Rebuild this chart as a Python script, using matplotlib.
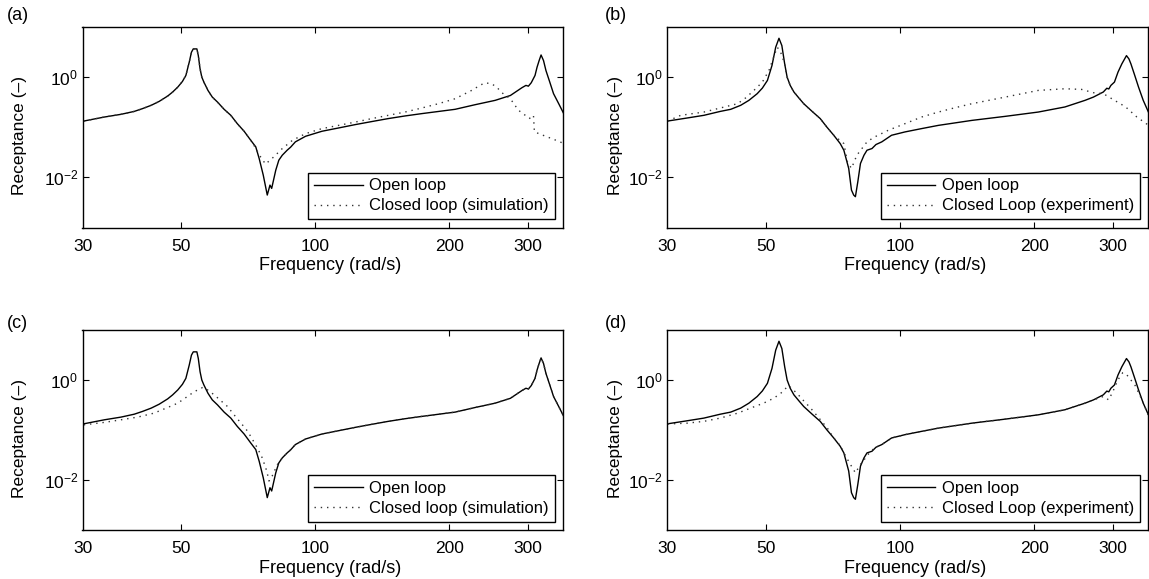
import math
import matplotlib
matplotlib.use("Agg")
import matplotlib.pyplot as plt
from matplotlib.ticker import FixedLocator, FuncFormatter, NullLocator

plt.rcParams["font.family"] = ["Liberation Sans", "DejaVu Sans"]
plt.rcParams["mathtext.fontset"] = "custom"
plt.rcParams["mathtext.rm"] = "Liberation Sans"
plt.rcParams["mathtext.it"] = "Liberation Sans:italic"
plt.rcParams["mathtext.bf"] = "Liberation Sans:bold"

# ---- Open-loop receptance, simulation model (panels a and c) ----
freq_sim_open = [30.2, 33.6, 36.6, 39.2, 40.9, 42.8, 44.6, 46.6, 47.8, 49.1,
                 50.3, 51.2, 52.1, 52.7, 53.2, 54.2, 54.6, 55.1, 55.6, 56.2,
                 57.4, 58.7, 60.3, 62.4, 64.6, 66.8, 69.2, 71.6, 73.5, 74.8,
                 76.4, 78.0, 79.1, 79.8, 81.5, 82.8, 84.3, 86.5, 88.0, 90.2,
                 95.1, 103.5, 112.8, 123.0, 134.0, 145.9, 159.0, 173.4, 206.1, 228.6,
                 253.5, 274.2, 291.1, 297.2, 301.0, 305.5, 311.5, 314.8, 318.2, 321.4,
                 325.5, 329.6, 336.2, 342.8, 352.6, 360.6]
rec_sim_open = [0.133, 0.160, 0.181, 0.207, 0.235, 0.274, 0.328, 0.419, 0.503, 0.632,
                0.82, 1.079, 1.986, 3.14, 3.656, 3.656, 2.70, 1.466, 1.0, 0.796,
                0.543, 0.400, 0.318, 0.228, 0.173, 0.118, 0.0832, 0.0551, 0.0406, 0.0238,
                0.0111, 0.00444, 0.00701, 0.00603, 0.0139, 0.022, 0.0277, 0.0350, 0.040, 0.0511,
                0.0661, 0.0832, 0.0968, 0.113, 0.130, 0.149, 0.168, 0.187, 0.228, 0.282,
                0.344, 0.430, 0.615, 0.684, 0.660, 0.773, 1.08, 1.578, 2.14, 2.767,
                2.14, 1.355, 0.796, 0.468, 0.288, 0.194]

# ---- Closed-loop receptance, simulation (panel a) ----
freq_sim_closed_a = [30.2, 33.6, 36.6, 39.2, 40.9, 42.8, 44.6, 46.6, 47.8, 49.1,
                     50.3, 51.2, 52.1, 52.7, 53.2, 54.2, 54.6, 55.1, 55.6, 56.2,
                     57.4, 58.7, 60.3, 62.4, 64.6, 66.8, 69.2, 71.6, 73.5, 74.8,
                     77.3, 80.7, 84.3, 88.9, 95.1, 103.5, 112.8, 123.0, 134.0, 145.9,
                     159.0, 173.4, 189.0, 206.1, 224.4, 234.2, 240.4, 248.9, 255.5, 262.4,
                     274.2, 285.8, 302.7, 309.0, 310.5, 323.6, 345.9, 360.6]
rec_sim_closed_a = [0.133, 0.160, 0.181, 0.207, 0.235, 0.274, 0.328, 0.419, 0.503, 0.632,
                    0.82, 1.079, 1.986, 3.14, 3.656, 3.656, 2.70, 1.466, 1.0, 0.796,
                    0.543, 0.400, 0.318, 0.228, 0.173, 0.118, 0.0832, 0.0551, 0.038, 0.0282,
                    0.0184, 0.0257, 0.0376, 0.0551, 0.0746, 0.094, 0.109, 0.127, 0.149, 0.173,
                    0.201, 0.242, 0.295, 0.371, 0.543, 0.683, 0.771, 0.736, 0.632, 0.489,
                    0.371, 0.219, 0.150, 0.174, 0.081, 0.070, 0.0557, 0.0479]

# ---- Closed-loop receptance, simulation (panel c) ----
freq_sim_closed_c = [30.2, 33.6, 36.6, 39.9, 43.4, 46.6, 49.1, 51.6, 53.5, 55.8,
                     57.3, 59.3, 61.4, 63.5, 65.7, 68.1, 70.5, 72.3, 74.1, 76.0,
                     77.8, 78.7, 80.0, 82.2, 84.3, 86.5, 88.0, 90.2, 95.1, 103.5,
                     112.8, 123.0, 134.0, 145.9, 159.0, 173.4, 206.1, 228.6, 253.5, 274.2,
                     291.1, 297.2, 301.0, 305.5, 311.5, 314.8, 318.2, 321.4, 325.5, 329.6,
                     336.2, 342.8, 352.6, 360.6]
rec_sim_closed_c = [0.127, 0.142, 0.160, 0.181, 0.217, 0.282, 0.344, 0.467, 0.586, 0.705,
                    0.632, 0.504, 0.383, 0.295, 0.201, 0.137, 0.094, 0.0641, 0.0438, 0.0277,
                    0.0151, 0.00955, 0.012, 0.0204, 0.0277, 0.0350, 0.040, 0.0511, 0.0661, 0.0832,
                    0.0968, 0.113, 0.130, 0.149, 0.168, 0.187, 0.228, 0.282, 0.344, 0.430,
                    0.615, 0.684, 0.660, 0.773, 1.08, 1.578, 2.14, 2.767, 2.14, 1.355,
                    0.796, 0.468, 0.288, 0.194]

# ---- Open-loop receptance, measured (panels b and d) ----
freq_exp_open = [30.1, 33.3, 36.3, 39.5, 41.7, 43.9, 45.8, 47.8, 49.1, 50.4,
                 51.6, 52.6, 53.5, 54.3, 55.1, 55.8, 56.7, 57.8, 59.3, 60.8,
                 63.5, 66.2, 68.5, 71.0, 73.4, 74.8, 76.7, 77.8, 78.7, 79.4,
                 80.4, 81.5, 83.0, 84.3, 86.5, 88.3, 91.0, 95.7, 102.6, 111.8,
                 121.9, 144.9, 172.2, 204.2, 234.4, 260.0, 271.6, 285.8, 291.0, 294.0,
                 297.2, 302.7, 308.3, 314.5, 322.1, 326.2, 329.6, 336.2, 342.8, 351.2,
                 360.6]
rec_exp_open = [0.133, 0.153, 0.173, 0.207, 0.228, 0.274, 0.344, 0.467, 0.604, 0.859,
                1.706, 3.945, 5.957, 4.266, 1.841, 1.0, 0.683, 0.504, 0.383, 0.295,
                0.207, 0.149, 0.101, 0.0692, 0.0473, 0.0348, 0.0151, 0.00558, 0.00444, 0.00411,
                0.00818, 0.0189, 0.0277, 0.0348, 0.0376, 0.0452, 0.0511, 0.0692, 0.0807, 0.094,
                0.109, 0.137, 0.165, 0.201, 0.254, 0.344, 0.400, 0.505, 0.600, 0.580,
                0.684, 0.796, 1.256, 1.84, 2.685, 2.31, 1.837, 1.08, 0.634, 0.345,
                0.203]

# ---- Closed-loop receptance, measured (panel b) ----
freq_exp_closed_b = [30.1, 32.2, 36.3, 39.5, 43.2, 45.0, 47.0, 49.1, 50.8, 53.0,
                     53.8, 55.1, 55.8, 56.7, 57.8, 59.3, 60.8, 63.5, 66.2, 68.5,
                     71.0, 74.8, 76.2, 77.8, 80.0, 84.3, 86.5, 88.3, 94.1, 102.6,
                     111.8, 121.9, 132.8, 144.9, 172.2, 204.2, 234.4, 255.3, 271.6, 285.8,
                     302.7, 320.6, 339.6, 360.6]
rec_exp_closed_b = [0.133, 0.173, 0.201, 0.242, 0.295, 0.383, 0.543, 0.796, 1.358, 3.945,
                    3.39, 1.841, 1.0, 0.683, 0.504, 0.383, 0.295, 0.207, 0.149, 0.101,
                    0.0692, 0.0473, 0.0204, 0.0151, 0.0277, 0.0511, 0.0594, 0.066, 0.0871, 0.118,
                    0.160, 0.201, 0.245, 0.295, 0.400, 0.543, 0.586, 0.569, 0.489, 0.468,
                    0.345, 0.255, 0.161, 0.110]

# ---- Closed-loop receptance, measured (panel d) ----
freq_exp_closed_d = [30.1, 33.3, 36.3, 39.5, 43.2, 46.2, 49.4, 52.1, 54.0, 56.2,
                     58.7, 60.8, 63.0, 65.8, 68.7, 71.0, 73.6, 75.5, 77.4, 79.4,
                     81.5, 85.9, 88.3, 91.0, 95.7, 102.6, 111.8, 121.9, 144.9, 172.2,
                     204.2, 234.4, 260.0, 271.6, 285.8, 293.8, 300.6, 308.0, 316.0, 322.0,
                     336.5, 349.0, 360.6]
rec_exp_closed_d = [0.132, 0.137, 0.149, 0.173, 0.217, 0.274, 0.344, 0.433, 0.543, 0.771,
                    0.543, 0.383, 0.274, 0.173, 0.109, 0.0692, 0.0473, 0.0299, 0.0204, 0.0139,
                    0.0204, 0.0376, 0.0452, 0.0511, 0.0692, 0.0807, 0.094, 0.109, 0.137, 0.165,
                    0.201, 0.254, 0.344, 0.400, 0.468, 0.401, 0.60, 1.0, 1.4, 1.3,
                    0.79, 0.40, 0.20]

x_ticks = [30, 50, 100, 200, 300]
y_ticks = [1e-2, 1e0]
panel_tags = ["(a)", "(b)", "(c)", "(d)"]
closed_labels = ["Closed loop (simulation)", "Closed Loop (experiment)",
                 "Closed loop (simulation)", "Closed Loop (experiment)"]

panels = [
    (freq_sim_open, rec_sim_open, freq_sim_closed_a, rec_sim_closed_a),
    (freq_exp_open, rec_exp_open, freq_exp_closed_b, rec_exp_closed_b),
    (freq_sim_open, rec_sim_open, freq_sim_closed_c, rec_sim_closed_c),
    (freq_exp_open, rec_exp_open, freq_exp_closed_d, rec_exp_closed_d),
]

W, H = 1149, 579
fig = plt.figure(figsize=(W / 100, H / 100), dpi=100)

# axes boxes in pixels: left, top, right, bottom
boxes = [(82.5, 27, 563, 227.5), (667, 27, 1148, 227.5),
         (82.5, 330, 563, 530), (667, 330, 1148, 530)]
tag_pos = [(7, 15), (605, 15), (7, 324), (605, 324)]
ylabel_x = [-0.1155, -0.092, -0.1155, -0.092]

FS = 12.5


def pow10(v, _pos):
    e = int(round(math.log10(v)))
    return r"$10^{%d}$" % e


for i, (fo, ro, fc, rc) in enumerate(panels):
    l, t, r, b = boxes[i]
    ax = fig.add_axes([l / W, 1 - b / H, (r - l) / W, (b - t) / H])
    ax.loglog(fo, ro, color="black", lw=1.0, label="Open loop")
    ax.loglog(fc, rc, color="0.2", lw=1.0, linestyle=(0, (1, 3.5)),
              label=closed_labels[i])
    ax.set_xlim(30, 360)
    ax.set_ylim(1e-3, 10)
    ax.xaxis.set_major_locator(FixedLocator(x_ticks))
    ax.xaxis.set_minor_locator(NullLocator())
    ax.xaxis.set_major_formatter(FuncFormatter(lambda v, p: "%d" % v))
    ax.yaxis.set_major_locator(FixedLocator(y_ticks))
    ax.yaxis.set_minor_locator(NullLocator())
    ax.yaxis.set_major_formatter(FuncFormatter(pow10))
    ax.tick_params(direction="in", top=True, right=True, length=4, width=0.8,
                   labelsize=FS)
    ax.tick_params(axis="x", pad=8)
    ax.tick_params(axis="y", pad=3)
    # the tick at the left limit sits on the spine; keep only its label
    first = ax.xaxis.get_major_ticks()[0]
    first.tick1line.set_visible(False)
    first.tick2line.set_visible(False)
    for s in ax.spines.values():
        s.set_linewidth(1.0)
    ax.set_xlabel("Frequency (rad/s)", fontsize=13)
    ax.xaxis.set_label_coords(0.516, -0.148)
    ax.set_ylabel("Receptance (\u2013)", fontsize=FS)
    ax.yaxis.set_label_coords(ylabel_x[i], 0.46)
    leg = ax.legend(loc="lower right", fontsize=12, handlelength=2.9,
                    fancybox=False, framealpha=1, edgecolor="black",
                    borderaxespad=0.5, labelspacing=0.3, borderpad=0.35,
                    handletextpad=0.4)
    leg.get_frame().set_linewidth(1.0)
    tx, ty = tag_pos[i]
    fig.text(tx / W, 1 - ty / H, panel_tags[i], fontsize=13, va="center",
             ha="left")

fig.savefig("out.png", dpi=100)
